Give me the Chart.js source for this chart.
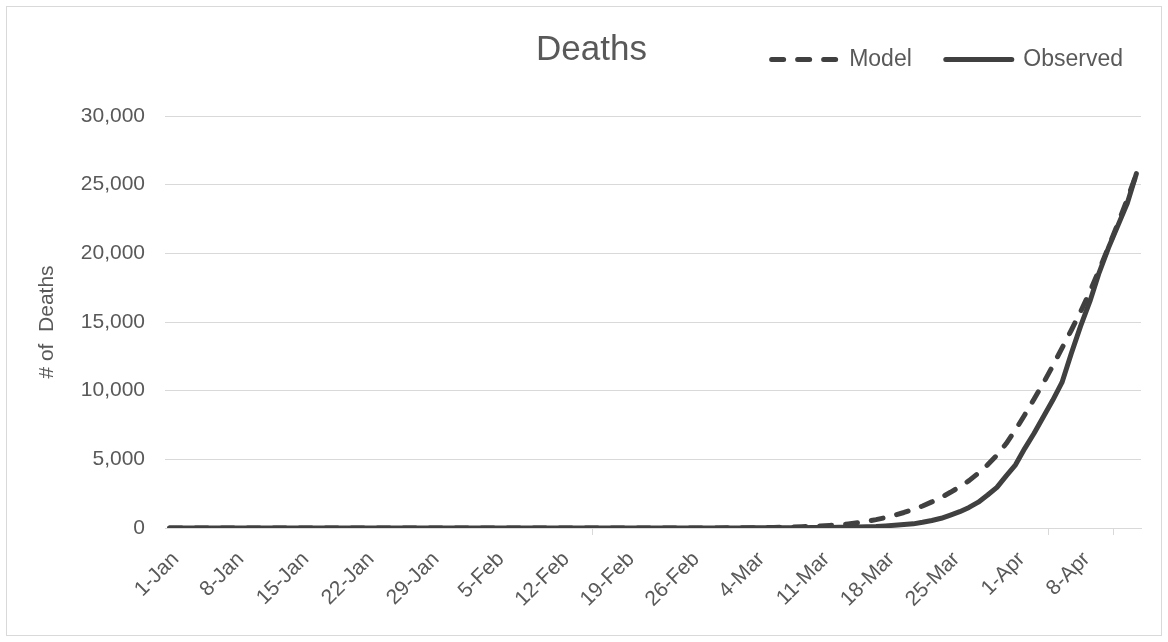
<!DOCTYPE html>
<html>
<head>
<meta charset="utf-8">
<title>Deaths</title>
<script src="https://cdn.jsdelivr.net/npm/chart.js@4.4.1/dist/chart.umd.min.js"></script>
<style>
  html, body { margin: 0; padding: 0; background: #ffffff; }
  #wrap { position: relative; width: 1168px; height: 642px; }
  #wrap canvas { position: absolute; left: 0; top: 0; }
  #frame { position: absolute; left: 6px; top: 6px; width: 1154px; height: 628px;
           border: 1px solid #d9d9d9; pointer-events: none; }
</style>
</head>
<body>
<div id="wrap">
  <canvas id="chart" width="1168" height="642"></canvas>
  <div id="frame"></div>
</div>
<script>
// Daily categories, 1 Jan to 14 Apr
const daysJan = ['1-Jan','2-Jan','3-Jan','4-Jan','5-Jan','6-Jan','7-Jan','8-Jan','9-Jan','10-Jan','11-Jan','12-Jan','13-Jan','14-Jan','15-Jan','16-Jan','17-Jan','18-Jan','19-Jan','20-Jan','21-Jan','22-Jan','23-Jan','24-Jan','25-Jan','26-Jan','27-Jan','28-Jan','29-Jan','30-Jan','31-Jan'];
const daysFeb = ['1-Feb','2-Feb','3-Feb','4-Feb','5-Feb','6-Feb','7-Feb','8-Feb','9-Feb','10-Feb','11-Feb','12-Feb','13-Feb','14-Feb','15-Feb','16-Feb','17-Feb','18-Feb','19-Feb','20-Feb','21-Feb','22-Feb','23-Feb','24-Feb','25-Feb','26-Feb','27-Feb','28-Feb','29-Feb'];
const daysMar = ['1-Mar','2-Mar','3-Mar','4-Mar','5-Mar','6-Mar','7-Mar','8-Mar','9-Mar','10-Mar','11-Mar','12-Mar','13-Mar','14-Mar','15-Mar','16-Mar','17-Mar','18-Mar','19-Mar','20-Mar','21-Mar','22-Mar','23-Mar','24-Mar','25-Mar','26-Mar','27-Mar','28-Mar','29-Mar','30-Mar','31-Mar'];
const daysApr = ['1-Apr','2-Apr','3-Apr','4-Apr','5-Apr','6-Apr','7-Apr','8-Apr','9-Apr','10-Apr','11-Apr','12-Apr','13-Apr','14-Apr'];

// Model deaths (cumulative)
const modelJan = [0,0,0,0,0,0,0,0,0,0,0,0,0,0,0,0,0,0,0,0,0,0,0,0,0,0,0,0,0,0,0];
const modelFeb = [0,0,0,0,0,0,0,0,0,0,0,0,0,0,0,0,0,0,0,0,1,1,2,2,3,4,5,7,9];
const modelMar = [12,16,21,27,34,43,55,70,90,115,145,185,235,300,380,480,610,760,930,1130,1350,1600,1900,2220,2600,3000,3450,4000,4600,5300,6150];
const modelApr = [7150,8250,9400,10550,11800,13100,14400,15750,17200,18800,20450,22150,23900,25750];

// Observed deaths (cumulative)
const observedJan = [0,0,0,0,0,0,0,0,0,0,0,0,0,0,0,0,0,0,0,0,0,0,0,0,0,0,0,0,0,0,0];
const observedFeb = [0,0,0,0,0,0,0,0,0,0,0,0,0,0,0,0,0,0,0,0,0,0,0,0,0,0,0,0,1];
const observedMar = [1,6,9,11,12,15,19,22,26,30,38,41,49,57,68,86,109,150,206,255,301,417,550,706,942,1190,1500,1880,2400,2960,3800];
const observedApr = [4600,5800,6900,8100,9300,10600,12700,14700,16500,18600,20400,22000,23600,25800];

// Axis settings
const labelEvery = 7;
const yMin = 0;
const yMax = 30000;
const yStep = 5000;

const categories = [...daysJan, ...daysFeb, ...daysMar, ...daysApr];
const modelValues = [...modelJan, ...modelFeb, ...modelMar, ...modelApr];
const observedValues = [...observedJan, ...observedFeb, ...observedMar, ...observedApr];

const FONT = "'Liberation Sans', Arial, sans-serif";
const TEXT = '#595959';
const LINE = '#404040';
const GRID = '#d9d9d9';

Chart.defaults.font.family = FONT;
Chart.defaults.color = TEXT;

new Chart(document.getElementById('chart'), {
  type: 'line',
  data: {
    labels: categories,
    datasets: [
      {
        label: 'Model',
        data: modelValues,
        borderColor: LINE,
        backgroundColor: LINE,
        borderWidth: 5,
        borderDash: [12, 14],
        borderCapStyle: 'round',
        borderJoinStyle: 'round',
        pointRadius: 0,
        tension: 0,
        fill: false
      },
      {
        label: 'Observed',
        data: observedValues,
        borderColor: LINE,
        backgroundColor: LINE,
        borderWidth: 5,
        borderCapStyle: 'round',
        borderJoinStyle: 'round',
        pointRadius: 0,
        tension: 0,
        fill: false
      }
    ]
  },
  options: {
    responsive: false,
    animation: false,
    devicePixelRatio: 1,
    layout: { padding: { left: 26, right: 11, top: 14, bottom: 0 } },
    plugins: {
      tooltip: { enabled: false },
      legend: {
        display: true,
        position: 'top',
        align: 'end',
        weight: 3000,
        labels: {
          color: TEXT,
          font: { size: 23 },
          usePointStyle: true,
          pointStyleWidth: 66,
          padding: 34,
          generateLabels(chart) {
            return chart.data.datasets.map((ds, i) => ({
              text: ds.label,
              fillStyle: 'rgba(0,0,0,0)',
              strokeStyle: ds.borderColor,
              lineWidth: ds.borderWidth,
              lineDash: ds.borderDash || [],
              lineCap: 'round',
              pointStyle: 'line',
              hidden: !chart.isDatasetVisible(i),
              datasetIndex: i,
              fontColor: TEXT
            }));
          }
        }
      },
      title: {
        display: true,
        text: 'Deaths',
        color: TEXT,
        font: { size: 35, weight: 'normal' },
        padding: { top: -52, bottom: 45 }
      }
    },
    scales: {
      x: {
        type: 'category',
        offset: true,
        grid: {
          offset: true,
          drawOnChartArea: false,
          drawTicks: true,
          tickLength: 7,
          lineWidth: 1,
          color: (c) => (c.type === 'scale' || c.index % labelEvery === 0) ? GRID : 'rgba(0,0,0,0)'
        },
        border: { display: true, color: GRID, width: 1 },
        ticks: {
          autoSkip: false,
          maxRotation: 45,
          minRotation: 45,
          padding: 12,
          labelOffset: 6,
          color: TEXT,
          font: { size: 21 },
          callback(value, index) {
            return index % labelEvery === 0 ? this.getLabelForValue(value) : null;
          }
        },
        afterFit(scale) { scale.height = 114; }
      },
      y: {
        min: yMin,
        max: yMax,
        grid: { color: GRID, lineWidth: 1, drawTicks: false },
        border: { display: false },
        ticks: {
          stepSize: yStep,
          padding: 20,
          color: TEXT,
          font: { size: 21 },
          callback: (v) => Number(v).toLocaleString('en-US')
        },
        title: {
          display: true,
          text: '# of  Deaths',
          color: TEXT,
          font: { size: 21 },
          padding: { top: 9, bottom: 0 }
        },
        afterFit(scale) { scale.width = 139; }
      },
      yRight: {
        position: 'right',
        display: true,
        grid: { display: false },
        border: { display: false },
        ticks: { display: false },
        afterFit(scale) { scale.width = 16; }
      }
    }
  }
});
</script>
</body>
</html>
